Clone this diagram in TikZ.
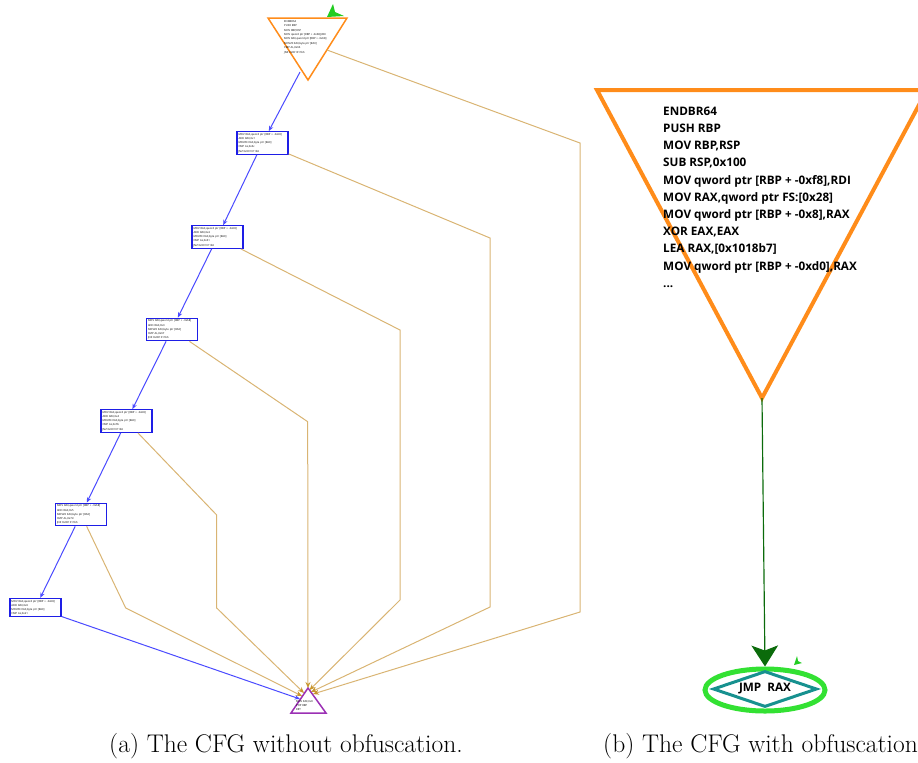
\documentclass[tikz,border=0pt]{standalone}
\usepackage{fontspec}
\newfontfamily\cfgfont{Open Sans}
\usetikzlibrary{arrows.meta, positioning, shapes.geometric}
\definecolor{cfgorange}{HTML}{FF8C1A}
\definecolor{boxblue}{HTML}{1E1EE6}
\definecolor{edgeblue}{HTML}{4A4AFF}
\definecolor{tanln}{HTML}{D9B473}
\definecolor{tandk}{HTML}{C8962E}
\definecolor{sinkpurple}{HTML}{9B30B4}
\definecolor{ringgreen}{HTML}{33E133}
\definecolor{entrygreen}{HTML}{22CC22}
\definecolor{dmdteal}{HTML}{17918F}
\definecolor{jmpgreen}{HTML}{0B6B0B}
\tikzset{
  blk/.style={draw=boxblue, line width=0.4mm, fill=white, align=left, inner sep=0.45mm,
              text width=14.4mm, font=\cfgfont\fontsize{2.3}{3.6}\selectfont, text=black},
  code/.style={anchor=north west, align=left, inner sep=0pt, text=black,
               font=\cfgfont\fontsize{2.3}{3.8}\selectfont},
  bigcode/.style={anchor=north west, align=left, inner sep=0pt, text=black,
                  font=\cfgfont\bfseries\fontsize{10}{14.7}\selectfont},
  captext/.style={font=\fontsize{21.8}{25}\selectfont, inner sep=0pt, anchor=base},
  bfl/.style={-{Stealth[length=1.6mm, width=1.3mm]}, line width=0.3mm, draw=edgeblue},
  tfl/.style={-{Stealth[length=1.8mm, width=1.5mm, color=tandk]}, line width=0.3mm, draw=tanln},
  jfl/.style={-{Stealth[length=6.3mm, width=8mm, inset=1.5mm]}, line width=0.35mm, draw=jmpgreen},
}
\begin{document}
\begin{tikzpicture}[x=0.3mm, y=-0.3mm]
  \useasboundingbox (0,0) rectangle (918,762);

  % (a) entry block
  \coordinate (tl) at (268,18);  \coordinate (tr) at (347,18);  \coordinate (tb) at (308,80);
  \draw[cfgorange, line width=0.45mm, line join=miter] (tl) -- (tr) -- (tb) -- cycle;
  \node[code] (entry) at (284,20) {ENDBR64\\PUSH RBP\\MOV RBP,RSP\\MOV qword ptr [RBP + -0x68],RDI\\MOV RAX,qword ptr [RBP + -0x68]\\MOVZX EAX,byte ptr [RAX]\\CMP AL,0x66\\JNZ 0x001011b6};
  \fill[entrygreen] (327,17) -- (333,4) -- (335,12) -- (344,16) -- cycle;
  \coordinate (tout) at (300,72);
  \coordinate (tside) at (327,50);

  % (a) compare blocks
  \node[blk] (b1) at (262.5,143) {MOV RAX,qword ptr [RBP + -0x68]\\ADD RAX,0x1\\MOVZX EAX,byte ptr [RAX]\\CMP AL,0x6c\\JNZ 0x001011b6};
  \node[blk] (b2) at (217.5,237) {MOV RAX,qword ptr [RBP + -0x68]\\ADD RAX,0x2\\MOVZX EAX,byte ptr [RAX]\\CMP AL,0x61\\JNZ 0x001011b6};
  \node[blk] (b3) at (172,329.5) {MOV RAX,qword ptr [RBP + -0x68]\\ADD RAX,0x3\\MOVZX EAX,byte ptr [RAX]\\CMP AL,0x67\\JNZ 0x001011b6};
  \node[blk] (b4) at (126.5,421) {MOV RAX,qword ptr [RBP + -0x68]\\ADD RAX,0x4\\MOVZX EAX,byte ptr [RAX]\\CMP AL,0x7b\\JNZ 0x001011b6};
  \node[blk] (b5) at (81,514.5) {MOV RAX,qword ptr [RBP + -0x68]\\ADD RAX,0x5\\MOVZX EAX,byte ptr [RAX]\\CMP AL,0x7d\\JNZ 0x001011b6};
  \node[blk] (b6) at (35.5,607.5) {MOV RAX,qword ptr [RBP + -0x68]\\ADD RAX,0x6\\MOVZX EAX,byte ptr [RAX]\\CMP AL,0x21};

  % (a) exit block
  \coordinate (sl) at (291,713);  \coordinate (sr) at (326,713);  \coordinate (sa) at (308,688);
  \draw[sinkpurple, line width=0.45mm, line join=miter] (sl) -- (sa) -- (sr) -- cycle;
  \node[code, font=\cfgfont\fontsize{2.3}{3.5}\selectfont] (exit) at (296,700) {MOV EAX,0x0\\POP RBP\\RET};
  \coordinate (s1) at (313,694);  \coordinate (s2) at (311,692);  \coordinate (s3) at (309.5,690);
  \coordinate (s4) at (308,688);  \coordinate (s5) at (304,693);  \coordinate (s6) at (302,696);
  \coordinate (s7) at (300,699);

  % fall-through edges
  \draw[bfl] (tout) -- (b1);
  \draw[bfl] (b1) -- (b2);
  \draw[bfl] (b2) -- (b3);
  \draw[bfl] (b3) -- (b4);
  \draw[bfl] (b4) -- (b5);
  \draw[bfl] (b5) -- (b6);
  \draw[bfl] (b6) -- (s7);

  % jumps to the exit
  \draw[tfl] (tside) -- (580,143) -- (580,612) -- (s1);
  \draw[tfl] (b1) -- (490,238) -- (490,607) -- (s2);
  \draw[tfl] (b2) -- (400,330) -- (400,600) -- (s3);
  \draw[tfl] (b3) -- (307.7,421.7) -- (s4);
  \draw[tfl] (b4) -- (216.7,515) -- (216.7,608) -- (s5);
  \draw[tfl] (b5) -- (125.7,608) -- (s6);

  % (b) obfuscated
  \coordinate (ol) at (597,90);  \coordinate (or) at (927,90);  \coordinate (ob) at (762,398);
  \draw[cfgorange, line width=1.2mm, line join=miter] (ol) -- (or) -- (ob) -- cycle;
  \node[bigcode] (big) at (663,106.5) {ENDBR64\\PUSH RBP\\MOV RBP,RSP\\SUB RSP,0x100\\MOV qword ptr [RBP + -0xf8],RDI\\MOV RAX,qword ptr FS:[0x28]\\MOV qword ptr [RBP + -0x8],RAX\\XOR EAX,EAX\\LEA RAX,[0x1018b7]\\MOV qword ptr [RBP + -0xd0],RAX\\...};
  \node[ellipse, draw=ringgreen, line width=1.5mm, minimum width=36mm, minimum height=12.6mm] (ring) at (765,690) {};
  \node[diamond, draw=dmdteal, line width=0.9mm, aspect=2.9, inner sep=0pt,
        minimum width=31.2mm, minimum height=10.8mm,
        font=\cfgfont\bfseries\fontsize{10}{12}\selectfont] (jmp) at (765,689) {JMP\ \ RAX};
  \draw[jfl] (ob) -- (ring.north);
  \fill[entrygreen] (794,665) -- (797,656) -- (798,661) -- (802,663) -- cycle;

  % captions
  \node[captext] (capa) at (286,752) {(a) The CFG without obfuscation.};
  \node[captext, anchor=base west] (capb) at (603,752) {(b) The CFG with obfuscation};
\end{tikzpicture}
\end{document}
